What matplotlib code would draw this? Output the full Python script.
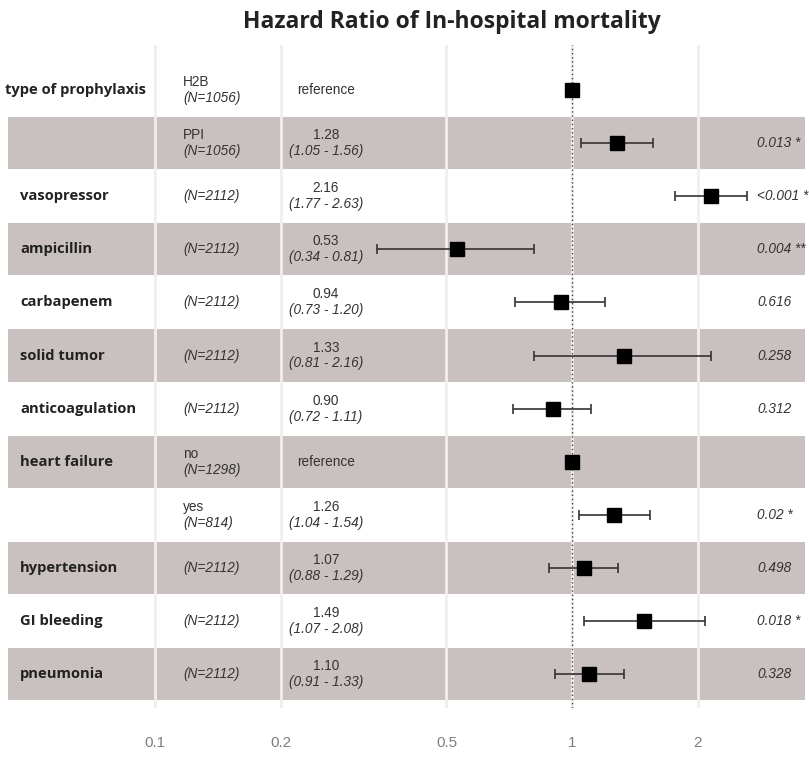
# Forest plot: hazard ratio of in-hospital mortality
import numpy as np
import matplotlib
matplotlib.use('Agg')
import matplotlib.pyplot as plt
import matplotlib.transforms as mtransforms

# Data
variables = ['type of prophylaxis', '', 'vasopressor', 'ampicillin', 'carbapenem',
             'solid tumor', 'anticoagulation', 'heart failure', '', 'hypertension',
             'GI bleeding', 'pneumonia']
levels = ['H2B', 'PPI', '', '', '', '', '', 'no', 'yes', '', '', '']
n_obs = [1056, 1056, 2112, 2112, 2112, 2112, 2112, 1298, 814, 2112, 2112, 2112]
hr = [1.00, 1.28, 2.16, 0.53, 0.94, 1.33, 0.90, 1.00, 1.26, 1.07, 1.49, 1.10]
ci_low = [np.nan, 1.05, 1.77, 0.34, 0.73, 0.81, 0.72, np.nan, 1.04, 0.88, 1.07, 0.91]
ci_high = [np.nan, 1.56, 2.63, 0.81, 1.20, 2.16, 1.11, np.nan, 1.54, 1.29, 2.08, 1.33]
is_ref = [True, False, False, False, False, False, False, True, False, False, False, False]
p_text = ['', '0.013 *', '<0.001 ***', '0.004 **', '0.616', '0.258', '0.312', '',
          '0.02 *', '0.498', '0.018 *', '0.328']
tick_vals = [0.1, 0.2, 0.5, 1, 2]
tick_labels = ['0.1', '0.2', '0.5', '1', '2']

narrow = ['Liberation Sans Narrow', 'Liberation Sans', 'DejaVu Sans']
bold_font = ['Open Sans', 'DejaVu Sans']
band_color = '#c9c1bf'
txt_color = '#333333'

fig = plt.figure(figsize=(8.09, 7.59), dpi=100, facecolor='w')
ax = fig.add_axes([0, 0.0672, 1, 0.8735])
ax.set_xscale('log')
ax.set_xlim(10 ** -1.3717, 10 ** 0.5683)
ax.set_ylim(12.638, 0.1525)
for s in ax.spines.values():
    s.set_visible(False)

rows = np.arange(1, len(hr) + 1)
trans = mtransforms.blended_transform_factory(ax.transAxes, ax.transData)

# alternating bands
for r in rows:
    if r % 2 == 0:
        ax.axhspan(r - 0.49, r + 0.49, xmin=0.0099, xmax=0.995, color=band_color, lw=0, zorder=0)

# grid lines at the ticks
for t in tick_vals:
    ax.axvline(t, color='#f1eeed', lw=2, zorder=1)
ax.axvline(1, color='#444444', lw=1, ls=(0, (1, 2)), zorder=2)

# estimates and CIs
hr_arr = np.array(hr)
lo_arr = np.array(ci_low)
hi_arr = np.array(ci_high)
ok = ~np.isnan(lo_arr)
ax.errorbar(hr_arr[ok], rows[ok], xerr=[hr_arr[ok] - lo_arr[ok], hi_arr[ok] - hr_arr[ok]],
            fmt='none', ecolor='#333333', elinewidth=1.2, capsize=3.5, capthick=1.2, zorder=3)
ax.plot(hr_arr, rows, 's', color='k', markersize=10.5, zorder=4)

# table text
fs = 9.8
for i, r in enumerate(rows):
    xv = 5 / 809 if i == 0 else 20 / 809
    ax.text(xv, r, variables[i], transform=trans, ha='left', va='center',
            family=bold_font, fontweight='bold', fontsize=10.6, color='#222222')
    if levels[i]:
        ax.text(183 / 809, r - 0.15, levels[i], transform=trans, ha='left', va='center',
                family=narrow, fontsize=fs, color=txt_color)
        ax.text(183 / 809, r + 0.15, '(N=%d)' % n_obs[i], transform=trans, ha='left', va='center',
                family=narrow, fontsize=fs, style='italic', color=txt_color)
    else:
        ax.text(183 / 809, r, '(N=%d)' % n_obs[i], transform=trans, ha='left', va='center',
                family=narrow, fontsize=fs, style='italic', color=txt_color)
    if is_ref[i]:
        ax.text(326 / 809, r, 'reference', transform=trans, ha='center', va='center',
                family=narrow, fontsize=fs, color=txt_color)
    else:
        ax.text(326 / 809, r - 0.15, '%.2f' % hr[i], transform=trans, ha='center', va='center',
                family=narrow, fontsize=fs, color=txt_color)
        ax.text(326 / 809, r + 0.15, '(%.2f - %.2f)' % (ci_low[i], ci_high[i]), transform=trans,
                ha='center', va='center', family=narrow, fontsize=fs, style='italic', color=txt_color)
    if p_text[i]:
        ax.text(757 / 809, r, p_text[i], transform=trans, ha='left', va='center',
                family=narrow, fontsize=fs, style='italic', color=txt_color)

ax.set_xticks(tick_vals)
ax.set_xticklabels(tick_labels, family=narrow, fontsize=11, color='#7f7f7f')
ax.minorticks_off()
ax.tick_params(axis='x', length=0, pad=20)
ax.set_yticks([])

fig.text(452 / 809, 1 - 22 / 759, 'Hazard Ratio of In-hospital mortality', ha='center', va='center',
         family=bold_font, fontweight='bold', fontsize=16.5, color='#222222')

fig.savefig('out.png', dpi=100, facecolor='w')
plt.close(fig)
